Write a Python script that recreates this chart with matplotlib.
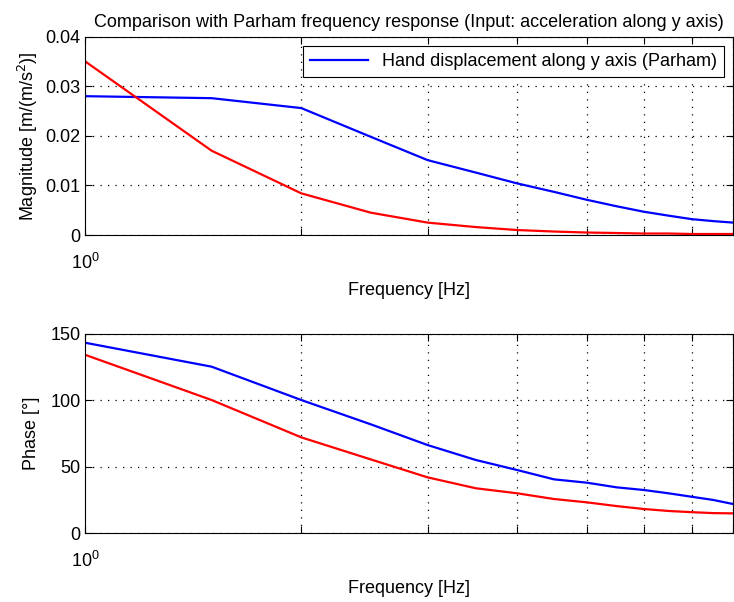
import matplotlib
matplotlib.use("Agg")
import matplotlib.pyplot as plt
from matplotlib.ticker import LogLocator, NullFormatter, FixedLocator

plt.rcParams["font.family"] = ["Liberation Sans", "DejaVu Sans"]
plt.rcParams["font.size"] = 13

# frequency grid [Hz]
freq = [1.0, 1.5, 2.0, 2.5, 3.0, 3.5, 4.0, 4.5, 5.0, 5.5, 6.0, 6.5, 7.0, 7.5, 8.0]

# Parham hand displacement model (blue)
mag_parham = [0.0280, 0.0276, 0.0256, 0.0198, 0.0151, 0.0126, 0.0104, 0.0087,
              0.0071, 0.0058, 0.0047, 0.0039, 0.0032, 0.0028, 0.0025]
phase_parham = [143.4, 125.4, 100.3, 82.0, 66.4, 55.2, 47.6, 40.6,
                38.1, 34.6, 32.6, 30.1, 27.5, 25.1, 22.0]

# identified model (red)
mag_model = [0.0350, 0.0170, 0.0084, 0.0045, 0.0025, 0.0016, 0.0010, 0.0007,
             0.0005, 0.0004, 0.0003, 0.0003, 0.0002, 0.0002, 0.0002]
phase_model = [134.3, 100.3, 72.2, 55.6, 42.1, 33.9, 30.1, 25.8,
               23.3, 20.5, 18.3, 16.8, 15.9, 15.2, 15.0]

W, H = 734, 602
fig = plt.figure(figsize=(W / 100, H / 100), dpi=100)
ax1 = fig.add_axes([85.3 / W, 1 - 235 / H, 648 / W, 198.3 / H])
ax2 = fig.add_axes([85.3 / W, 1 - 533.3 / H, 648 / W, 199.3 / H])

DOTS = (0, (1, 5))


def style_axis(ax):
    ax.set_xscale("log")
    ax.set_xlim(1, 8)
    ax.xaxis.set_major_locator(FixedLocator([1]))
    ax.xaxis.set_minor_locator(LogLocator(base=10, subs=range(2, 10)))
    ax.xaxis.set_minor_formatter(NullFormatter())
    ax.tick_params(which="both", direction="in", top=True, right=True,
                   length=5, width=0.8, labelsize=13)
    ax.tick_params(axis="x", which="major", pad=13)
    ax.grid(True, which="major", axis="y", linestyle=DOTS,
            color="black", lw=0.9)
    ax.grid(True, which="minor", axis="x", linestyle=DOTS,
            color="black", lw=0.9)
    for sp in ax.spines.values():
        sp.set_linewidth(0.8)
    ax.set_xlabel("Frequency [Hz]")
    ax.xaxis.set_label_coords(0.5, -0.235)


# magnitude
ax1.plot(freq, mag_parham, color="#0000ff", lw=1.6,
         label="Hand displacement along y axis (Parham)")
ax1.plot(freq, mag_model, color="#ff0000", lw=1.6)
style_axis(ax1)
ax1.set_ylim(0, 0.04)
ax1.set_yticks([0, 0.01, 0.02, 0.03, 0.04])
ax1.set_yticklabels(["0", "0.01", "0.02", "0.03", "0.04"])
ax1.set_ylabel("Magnitude [m/(m/s$^2$)]")
ax1.yaxis.set_label_coords(-0.07, 0.5)
ax1.set_title("Comparison with Parham frequency response "
              "(Input: acceleration along y axis)", fontsize=13, pad=7)
leg = ax1.legend(loc="upper right", fancybox=False, framealpha=1,
                 edgecolor="black", handlelength=3.2, borderaxespad=0.5,
                 fontsize=13)
leg.get_frame().set_linewidth(0.8)

# phase
ax2.plot(freq, phase_parham, color="#0000ff", lw=1.6)
ax2.plot(freq, phase_model, color="#ff0000", lw=1.6)
style_axis(ax2)
ax2.set_ylim(0, 150)
ax2.set_yticks([0, 50, 100, 150])
ax2.set_ylabel("Phase [°]")
ax2.yaxis.set_label_coords(-0.07, 0.5)

fig.savefig("out.png", dpi=100)
